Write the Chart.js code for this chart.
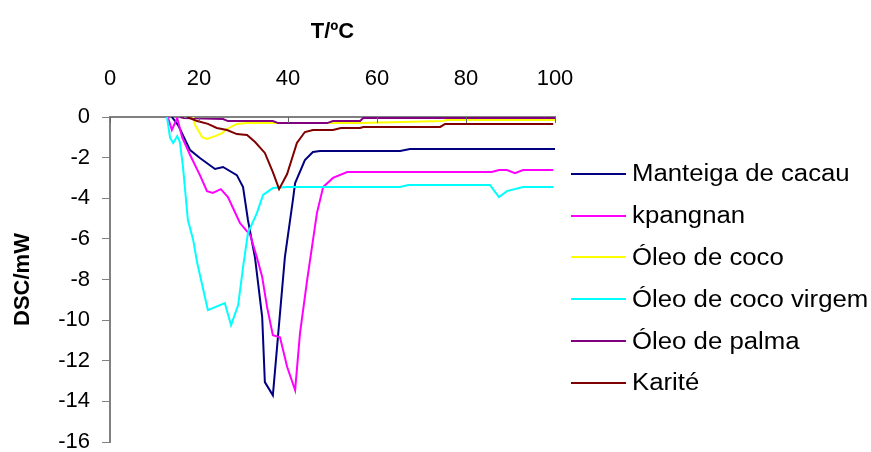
<!DOCTYPE html>
<html lang="pt">
<head>
    <meta charset="UTF-8">
    <title>DSC</title>
    <script src="https://cdn.jsdelivr.net/npm/chart.js"></script>
    <style>
        body {
            margin: 0;
            background: #fff;
            font-family: "Liberation Sans", Arial, sans-serif;
        }
        .wrap {
            position: relative;
            width: 871px;
            height: 452px;
        }
        #legend {
            position: absolute;
            left: 571px;
            top: 153px;
        }
        .item {
            height: 41.8px;
            display: flex;
            align-items: center;
            white-space: nowrap;
        }
        .item span.line {
            display: inline-block;
            width: 55px;
            height: 2px;
            margin-right: 6px;
        }
        .item span.txt {
            font-size: 23px;
            color: #000;
            display: inline-block;
            transform: scaleX(1.12);
            transform-origin: left center;
        }
    </style>
</head>
<body>
<div class="wrap">
    <canvas id="dsc" width="871" height="452"></canvas>
    <div id="legend"></div>
</div>
<script>
    // ticks
    const xTicks = [0, 20, 40, 60, 80, 100];
    const yTicks = [0, -2, -4, -6, -8, -10, -12, -14, -16];

    const labels = ['Manteiga de cacau', 'kpangnan', 'Óleo de coco', 'Óleo de coco virgem', 'Óleo de palma', 'Karité'];
    const colors = ['#000080', '#FF00FF', '#FFFF00', '#00FFFF', '#800080', '#800000'];

    // Manteiga de cacau
    const cacauT = [13.9, 15.3, 18.0, 20.2, 23.6, 25.4, 28.5, 29.9, 31.0, 32.6, 34.2, 34.8, 36.6, 39.3, 41.1, 41.6, 43.8, 45.6, 47.2, 65.2, 67.4, 100];
    const cacauDSC = [0, -0.4, -1.63, -2.02, -2.56, -2.46, -2.86, -3.45, -5.07, -6.95, -9.85, -13.05, -13.7, -6.9, -4.09, -3.25, -2.12, -1.72, -1.67, -1.67, -1.58, -1.58];

    // kpangnan
    const kpaT = [13.0, 13.9, 15.1, 16.2, 18.0, 20.2, 21.8, 23.1, 24.9, 26.5, 29.2, 31.5, 33.0, 34.2, 35.3, 36.6, 38.2, 39.8, 41.6, 42.7, 44.3, 46.5, 47.9, 50.1, 53.3, 85.8, 87.4, 89.2, 91.0, 92.8, 99.6];
    const kpaDSC = [0, -0.64, -0.05, -0.99, -1.87, -2.86, -3.65, -3.74, -3.55, -3.94, -5.22, -5.81, -6.9, -7.88, -9.36, -10.74, -10.84, -12.3, -13.45, -10.64, -8.03, -4.73, -3.45, -3.0, -2.71, -2.71, -2.61, -2.61, -2.76, -2.61, -2.61];

    // Óleo de coco
    const cocoT = [18.7, 19.1, 20.7, 21.8, 23.6, 25.2, 26.3, 28.5, 30.8, 56.2, 74.8, 75.7, 100];
    const cocoDSC = [0, -0.39, -0.99, -1.08, -0.94, -0.79, -0.59, -0.34, -0.3, -0.3, -0.2, -0.15, -0.15];

    // Óleo de coco virgem
    const virgemT = [12.8, 13.5, 14.2, 15.1, 15.7, 16.4, 17.5, 18.7, 19.6, 22.0, 25.8, 27.2, 28.8, 29.9, 31.0, 33.0, 34.4, 36.6, 39.8, 65.2, 67.0, 85.4, 87.4, 89.2, 92.8, 99.6];
    const virgemDSC = [0, -1.03, -1.28, -0.94, -1.23, -2.46, -5.07, -6.06, -7.19, -9.51, -9.16, -10.25, -9.26, -7.39, -5.71, -4.73, -3.84, -3.5, -3.45, -3.45, -3.35, -3.35, -3.94, -3.65, -3.45, -3.45];

    // Óleo de palma
    const palmaT = [15.7, 16.6, 25.4, 26.5, 30.8, 36.6, 37.8, 48.8, 50.1, 56.2, 56.9, 100];
    const palmaDSC = [0, -0.05, -0.1, -0.2, -0.2, -0.2, -0.3, -0.3, -0.2, -0.2, -0.05, -0.05];

    // Karité
    const kariteT = [17.3, 19.6, 22.0, 24.0, 26.3, 28.5, 30.8, 32.6, 34.8, 36.6, 38.0, 39.8, 42.0, 43.8, 45.6, 50.1, 51.9, 56.2, 56.9, 74.2, 75.3, 99.6];
    const kariteDSC = [0, -0.2, -0.34, -0.54, -0.64, -0.84, -0.89, -1.23, -1.77, -2.71, -3.55, -2.81, -1.28, -0.74, -0.64, -0.64, -0.54, -0.54, -0.49, -0.49, -0.34, -0.34];

    const seriesT = [cacauT, kpaT, cocoT, virgemT, palmaT, kariteT];
    const seriesDSC = [cacauDSC, kpaDSC, cocoDSC, virgemDSC, palmaDSC, kariteDSC];

    const datasets = labels.map((lab, i) => ({
        label: lab,
        data: seriesT[i].map((t, j) => ({x: t, y: seriesDSC[i][j]})),
        borderColor: colors[i],
        borderWidth: 2,
        pointRadius: 0,
        tension: 0,
        fill: false,
        order: -i
    }));

    // small tick marks pointing into the plot from the top axis
    const innerTicks = {
        id: 'innerTicks',
        afterDraw(chart) {
            const ctx = chart.ctx;
            const xs = chart.scales.x;
            const top = chart.chartArea.top;
            ctx.save();
            ctx.strokeStyle = '#666';
            ctx.lineWidth = 1;
            xTicks.forEach(v => {
                const px = Math.round(xs.getPixelForValue(v)) + 0.5;
                ctx.beginPath();
                ctx.moveTo(px, top);
                ctx.lineTo(px, top + 6);
                ctx.stroke();
            });
            ctx.restore();
        }
    };

    const tickFont = {family: '"Liberation Sans", Arial, sans-serif', size: 22};
    const titleFont = {family: '"Liberation Sans", Arial, sans-serif', size: 22, weight: 'bold'};

    new Chart(document.getElementById('dsc'), {
        type: 'line',
        data: {datasets: datasets},
        options: {
            responsive: false,
            animation: false,
            layout: {padding: {left: 0, top: 0, right: 316, bottom: 10}},
            plugins: {legend: {display: false}, tooltip: {enabled: false}},
            scales: {
                x: {
                    type: 'linear',
                    position: 'top',
                    min: 0,
                    max: 100,
                    afterBuildTicks: s => { s.ticks = xTicks.map(v => ({value: v})); },
                    afterFit: s => { s.height = 117; },
                    ticks: {font: tickFont, color: '#000', padding: 25, maxRotation: 0},
                    grid: {display: false, drawTicks: false},
                    border: {display: true, color: '#808080', width: 2},
                    title: {display: true, text: 'T/ºC', font: titleFont, color: '#000', padding: {top: 19}}
                },
                y: {
                    type: 'linear',
                    min: -16,
                    max: 0,
                    afterBuildTicks: s => { s.ticks = yTicks.map(v => ({value: v})); },
                    afterFit: s => { s.width = 110; s.paddingTop = 0; s.paddingBottom = 0; },
                    ticks: {font: tickFont, color: '#000', padding: 12},
                    grid: {drawOnChartArea: false, drawTicks: true, tickLength: 8, color: '#808080'},
                    border: {display: true, color: '#808080', width: 2},
                    title: {display: true, text: 'DSC/mW', font: titleFont, color: '#000', padding: {top: 10}}
                }
            }
        },
        plugins: [innerTicks]
    });

    // legend
    const leg = document.getElementById('legend');
    labels.forEach((lab, i) => {
        const row = document.createElement('div');
        row.className = 'item';
        row.innerHTML = '<span class="line" style="background:' + colors[i] + '"></span><span class="txt">' + lab + '</span>';
        leg.appendChild(row);
    });
</script>
</body>
</html>
